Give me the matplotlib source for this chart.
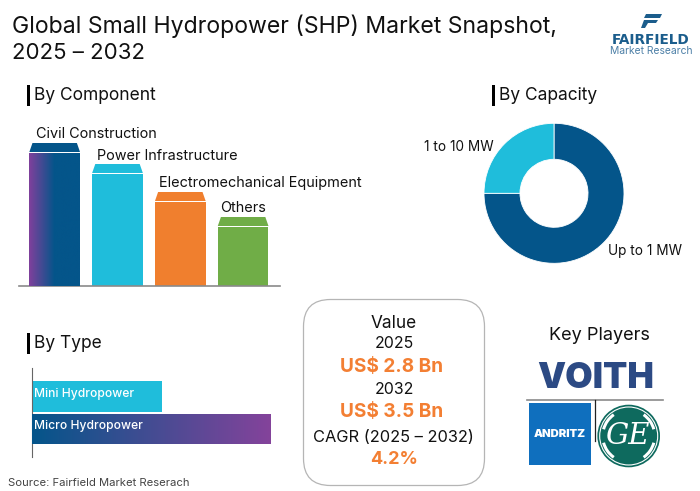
import numpy as np
import matplotlib
matplotlib.use("Agg")
import matplotlib.pyplot as plt
from matplotlib.colors import LinearSegmentedColormap
from matplotlib.patches import Circle, FancyBboxPatch, Polygon, Rectangle, Wedge

W, H = 700, 491
FONT = "Inter"

components = ["Civil Construction", "Power Infrastructure", "Electromechanical Equipment", "Others"]
component_vals = [133, 112, 84, 59]
component_cols = ["#04558a", "#1fbddb", "#f07f2e", "#70ad47"]
capacity = ["Up to 1 MW", "1 to 10 MW"]
capacity_vals = [75, 25]
capacity_cols = ["#04558a", "#1fbddb"]
types = ["Micro Hydropower", "Mini Hydropower"]
type_vals = [239, 130.5]

plt.rcParams["font.family"] = [FONT, "DejaVu Sans"]
fig = plt.figure(figsize=(W / 100, H / 100), dpi=100)

def px_axes(x0, y0, x1, y1):
    # axes from pixel box, y measured from the top like the picture
    return fig.add_axes([x0 / W, 1 - y1 / H, (x1 - x0) / W, (y1 - y0) / H])

# overlay in pixel coords for headings, box, logos
bg = px_axes(0, 0, W, H)
bg.set_xlim(0, W)
bg.set_ylim(H, 0)
bg.axis("off")

def txt(x, y, s, size, color="#111111", ha="left", weight="normal", **kw):
    bg.text(x, y, s, fontsize=size, color=color, ha=ha, va="center", fontweight=weight, **kw)

txt(12, 26, "Global Small Hydropower (SHP) Market Snapshot,", 16.6)
txt(12, 53, "2025 – 2032", 16)

for x, y, s in [(27, 85, "By Component"), (492, 85, "By Capacity"), (27, 333, "By Type")]:
    bg.add_patch(Rectangle((x, y), 3, 20.5, color="black", lw=0))
    txt(x + 7, y + 10, s, 12.5)

# value box
bg.add_patch(FancyBboxPatch((303.5 + 27, 299.5 + 27), 181 - 54, 186 - 54,
                            boxstyle="round,pad=27", fc="white", ec="#b5b5b5", lw=0.9))
ORANGE = "#f37f33"
txt(394, 324, "Value", 12.4, ha="center")
txt(394, 343.5, "2025", 11.4, ha="center")
txt(391.5, 366.5, "US$ 2.8 Bn", 13.7, ORANGE, ha="center", weight="bold")
txt(394, 389.5, "2032", 11.4, ha="center")
txt(391.5, 412, "US$ 3.5 Bn", 13.7, ORANGE, ha="center", weight="bold")
txt(393.5, 437, "CAGR (2025 – 2032)", 11.8, ha="center")
txt(394, 459, "4.2%", 13, ORANGE, ha="center", weight="bold")

txt(8, 483, "Source: Fairfield Market Reserach", 8.1, "#444444")

# key players
txt(599, 335, "Key Players", 13, ha="center")
txt(595.5, 378.5, "VOITH", 25.5, "#2c4a84", ha="center", weight="black")
bg.plot([527, 663], [400, 400], color="#8a8a8a", lw=1.2)
bg.plot([594.7, 594.7], [400, 441], color="#222222", lw=0.9)
bg.add_patch(Rectangle((529.3, 403), 62, 61.7, color="#0f6fbe", lw=0))
txt(560.3, 434, "ANDRITZ", 8.2, "white", ha="center", weight="black")
GE_X, GE_Y = 628.7, 436
bg.add_patch(Circle((GE_X, GE_Y), 31.3, color="#0e6a5e", lw=0))
bg.add_patch(Circle((GE_X, GE_Y), 29, fc="none", ec="white", lw=0.8))
# white curls inside the ring (y axis runs down here)
for a0, a1 in [(195, 235), (305, 345), (15, 55), (125, 165)]:
    bg.add_patch(Wedge((GE_X, GE_Y), 27.5, a0, a1, width=3, color="white", lw=0))
bg.text(GE_X - 1, GE_Y, "GE", fontsize=21, color="white", ha="center", va="center",
        family="DejaVu Serif", style="italic")

# fairfield logo
NAVY = "#1b5d8c"
bg.add_patch(Polygon([[646, 14], [662, 14], [660, 18], [644, 18]], color=NAVY, lw=0))
bg.add_patch(Polygon([[644, 20], [658, 20], [656, 23], [648, 23], [645, 28], [641, 28]], color=NAVY, lw=0))
txt(651, 39.5, "FAIRFIELD", 9.8, NAVY, ha="center", weight="bold", family="DejaVu Sans")
txt(651, 50.5, "Market Research", 7.4, "#4b7ea6", ha="center")

# component bars
ax = px_axes(19, 130, 280, 286)
ax.patch.set_alpha(0)
for s in ["top", "left", "right"]:
    ax.spines[s].set_visible(False)
ax.spines["bottom"].set_color("#8a8a8a")
ax.spines["bottom"].set_linewidth(1.2)
ax.set_xticks([])
ax.set_yticks([])

xs = np.arange(len(components))
bw = 0.807
bars = ax.bar(xs, component_vals, width=bw, color=component_cols, zorder=2)

cmap1 = LinearSegmentedColormap.from_list("pv", ["#80409c", "#04558a", "#04558a"])
grad = np.linspace(0, 1, 256).reshape(1, -1)
im = ax.imshow(grad, cmap=cmap1, aspect="auto", zorder=3,
               extent=(xs[0] - bw / 2, xs[0] + bw / 2, 0, component_vals[0]))
im.set_clip_path(bars[0])
ax.set_xlim(-0.568, 3.587)
ax.set_ylim(0, 156)

for x, v, c, name in zip(xs, component_vals, component_cols, components):
    l, r = x - bw / 2, x + bw / 2
    cap = [[l, v + 1], [r, v + 1], [r - 0.05, v + 10], [l + 0.05, v + 10]]
    ax.add_patch(Polygon(cap, color=c, lw=0, zorder=3))
    ax.text(l + 0.1 - 0.02 * x, v + 18.5, name, fontsize=10.4, color="#111111", ha="left", va="center", clip_on=False)

# capacity donut
ax2 = px_axes(484, 123.3, 624, 263.3)
wedges, _ = ax2.pie(capacity_vals, colors=capacity_cols, startangle=90, counterclock=False,
                    radius=1, wedgeprops=dict(width=0.514, edgecolor="white", linewidth=0.6))
ax2.set_xlim(-1, 1)
ax2.set_ylim(-1, 1)
txt(424, 147, capacity[1], 9.8)
txt(608, 250.5, capacity[0], 9.8)

# type bars
ax3 = px_axes(31.5, 368, 280, 457)
ax3.patch.set_alpha(0)
for s in ["top", "right", "bottom"]:
    ax3.spines[s].set_visible(False)
ax3.spines["left"].set_color("#666666")
ax3.set_xticks([])
ax3.set_yticks([])
tbars = ax3.barh(range(len(types)), type_vals, height=0.95, color=["#04558a", "#1fbddb"], zorder=2)
cmap2 = LinearSegmentedColormap.from_list("bp", ["#04558a", "#84439b"])
im2 = ax3.imshow(grad, cmap=cmap2, aspect="auto", zorder=3,
                 extent=(0, type_vals[0], -0.475, 0.475))
im2.set_clip_path(tbars[0])
ax3.set_xlim(0, 248.5)
ax3.set_ylim(-0.862, 1.877)
for i, name in enumerate(types):
    ax3.text(2.5, i + 0.08, name, fontsize=8.7, color="white", va="center", zorder=4, fontweight="medium")

fig.savefig("out.png", dpi=100, facecolor="white")
